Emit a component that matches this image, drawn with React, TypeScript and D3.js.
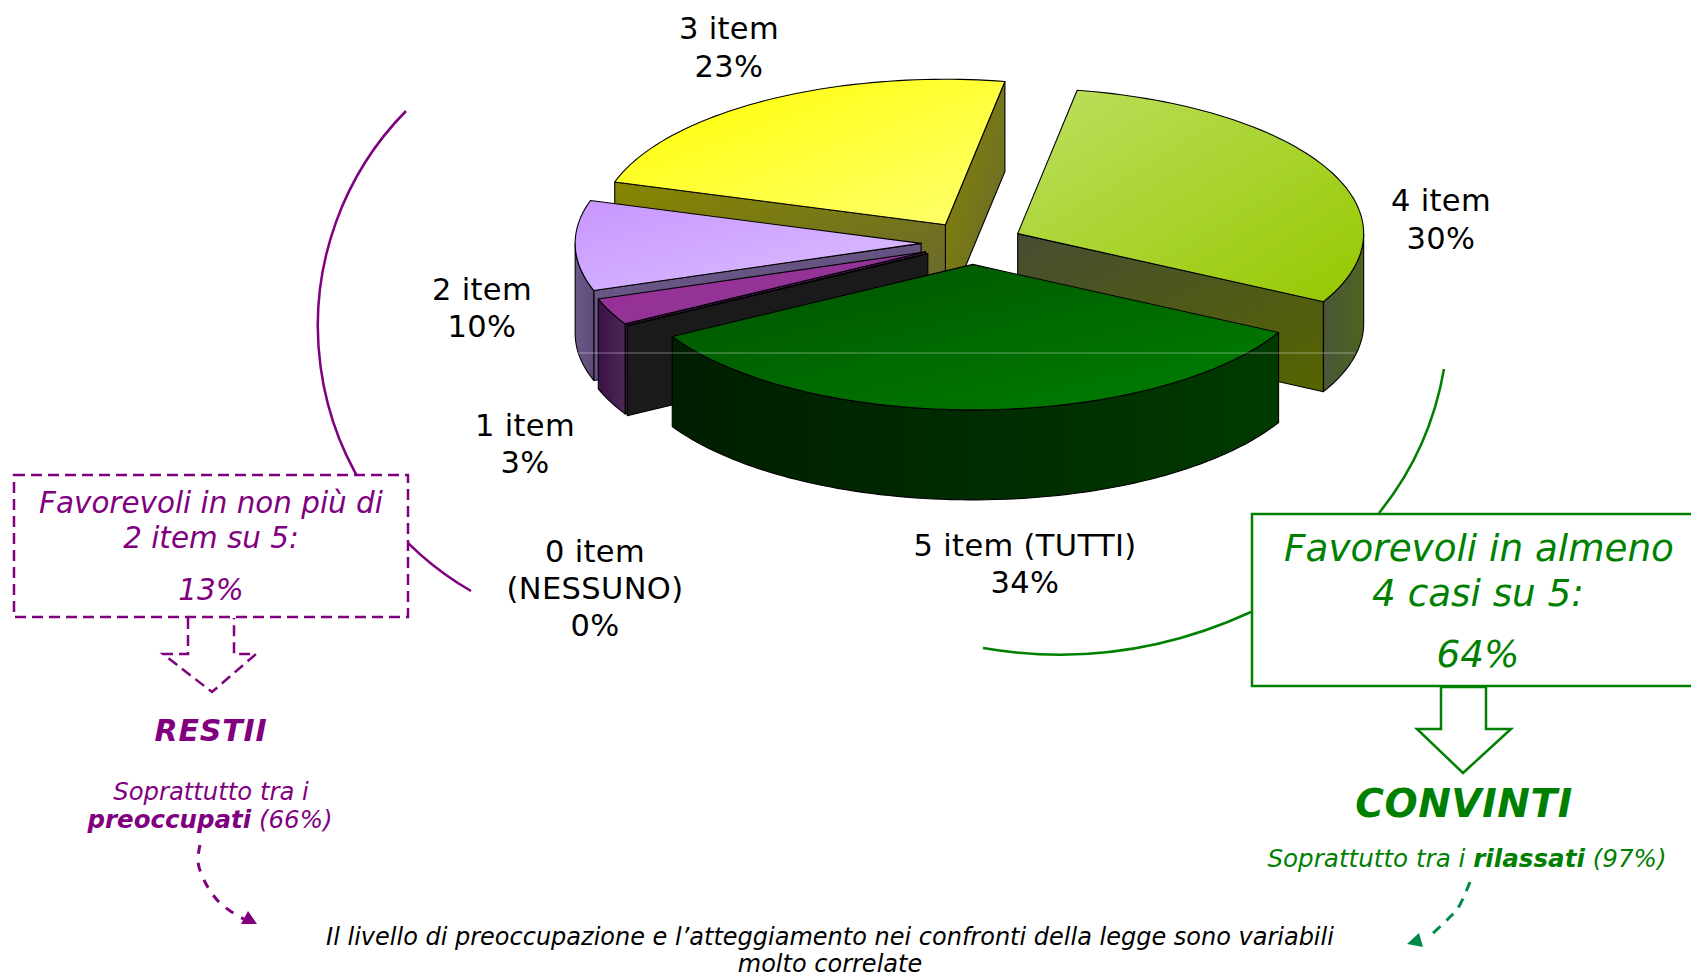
import React from "react";
import * as d3 from "d3";

// ---- data ----
const categories = ["0 item", "1 item", "2 item", "3 item", "4 item", "5 item"];
const values = [0, 3, 10, 23, 30, 34];
const labelLines = [
  ["0 item", "(NESSUNO)", "0%"],
  ["1 item", "3%"],
  ["2 item", "10%"],
  ["3 item", "23%"],
  ["4 item", "30%"],
  ["5 item (TUTTI)", "34%"],
];

// ---- styles / layout (not data) ----
const W = 1691, H = 975;
const CX = 972, CY = 243, RX = 346, RY = 145.5, DEPTH = 90, EXPLODE = 0.147;
const START_DEG = 240.3;
const labelPos: [number, number, number][] = [
  [595, 562, 37],
  [525, 436, 37],
  [482, 300, 37],
  [729, 39, 38],
  [1441, 211, 38],
  [1025, 556, 37],
];
const topStops = [
  ["#1a1a1a", "#1a1a1a"],
  ["#9c2a9c", "#8c3c90"],
  ["#c896ff", "#dcc0ff"],
  ["#ffff00", "#ffff70"],
  ["#bce060", "#96c800"],
  ["#005200", "#008000"],
];
const wallStops = [
  ["#1a1a1a", "#1a1a1a"],
  ["#3c0f48", "#4c2a54"],
  ["#6a5a88", "#5e4a78"],
  ["#868600", "#666633"],
  ["#464d32", "#566400"],
  ["#001e00", "#003a00"],
];
const arcWallStops = [
  ["#1a1a1a", "#1a1a1a"],
  ["#3c0f48", "#4c2a54"],
  ["#6a5a88", "#5e4a78"],
  ["#868600", "#666633"],
  ["#4a5538", "#4e6420"],
  ["#001e00", "#003a00"],
];

const rad = (d: number) => (d * Math.PI) / 180;
const xScale = d3.scaleLinear().domain([-1, 1]).range([-RX, RX]);
const yScale = d3.scaleLinear().domain([-1, 1]).range([-RY, RY]);
const onRim = (a: number, ox: number, oy: number): [number, number] => [
  ox + xScale(Math.sin(a)),
  oy + yScale(-Math.cos(a)),
];
const line = d3.line();
const closed = (pts: [number, number][]) => (line(pts) as string) + "Z";

const sampleArc = (a0: number, a1: number, ox: number, oy: number) => {
  const n = Math.max(2, Math.ceil(Math.abs(a1 - a0) / rad(1.5)));
  return d3.range(n + 1).map((i) => onRim(a0 + ((a1 - a0) * i) / n, ox, oy));
};

const arcs = d3
  .pie<number>()
  .sort(null)
  .startAngle(rad(START_DEG))
  .endAngle(rad(START_DEG + 360))(values);

type Face = { d: string; fill: string };

const slices = arcs.map((arc, i) => {
  const a0 = arc.startAngle, a1 = arc.endAngle;
  const mid = (a0 + a1) / 2;
  const ox = CX + EXPLODE * xScale(Math.sin(mid));
  const oy = CY + EXPLODE * yScale(-Math.cos(mid));
  const apex: [number, number] = [ox, oy];
  const walls: Face[] = [];
  const radialWall = (a: number, normal: number) => {
    if (Math.cos(normal) < 0) {
      const p = onRim(a, ox, oy);
      walls.push({
        d: closed([apex, p, [p[0], p[1] + DEPTH], [ox, oy + DEPTH]]),
        fill: `url(#wall${i})`,
      });
    }
  };
  radialWall(a1, a1 + Math.PI / 2);
  radialWall(a0, a0 - Math.PI / 2);
  const arcFaces: Face[] = [];
  [-2 * Math.PI, 0].forEach((shift) => {
    const lo = Math.max(a0 + shift, rad(90));
    const hi = Math.min(a1 + shift, rad(270));
    if (hi > lo) {
      const rimPts = sampleArc(lo, hi, ox, oy);
      const lower = rimPts.map(([x, y]) => [x, y + DEPTH] as [number, number]).reverse();
      arcFaces.push({ d: closed([...rimPts, ...lower]), fill: `url(#arcwall${i})` });
    }
  });
  const top = closed([apex, ...sampleArc(a0, a1, ox, oy)]);
  return { i, oy, walls, arcFaces, top };
});
const paintOrder = [...slices].sort((a, b) => a.oy - b.oy);

const smooth = d3.line().curve(d3.curveCatmullRom.alpha(0.5));
const PURPLE = "#800080", GREEN = "#008000", TEAL = "#008a4a";
const FONT = "'DejaVu Sans', Verdana, sans-serif";

const purpleArc = "M406 111 A306 306 0 0 0 471 591";
const greenArcUpper = "M1444 369 Q1430 450 1379 513";
const greenArcLower = "M1251 612 C1190 640 1100 668 983 648";
const purpleDash = smooth([
  [200, 845], [198, 862], [205, 882], [219, 902], [238, 916], [246, 920],
] as [number, number][]) as string;
const tealDash = smooth([
  [1470, 882], [1458, 908], [1448, 919], [1431, 935],
] as [number, number][]) as string;

function T(p: any) {
  const { x, y, size, fill = "#000", weight, italic = true, spacing, children } = p;
  return (
    <text x={x} y={y} textAnchor="middle" fontFamily={FONT} fontSize={size} fill={fill}
      letterSpacing={spacing}
      fontStyle={italic ? "italic" : "normal"} fontWeight={weight}>{children}</text>
  );
}

export default function App() {
  return (
    <svg width={W} height={H} viewBox={`0 0 ${W} ${H}`}
      style={{ position: "absolute", left: 0, top: 0, display: "block", background: "#fff" }}>
      <defs>
        {categories.map((c, i) => (
          <React.Fragment key={c}>
            <linearGradient id={`top${i}`} x1="0" y1="0" x2="1" y2="1">
              <stop offset="0" stopColor={topStops[i][0]} />
              <stop offset="1" stopColor={topStops[i][1]} />
            </linearGradient>
            <linearGradient id={`wall${i}`} x1="0" y1="0" x2="1" y2="1">
              <stop offset="0" stopColor={wallStops[i][0]} />
              <stop offset="1" stopColor={wallStops[i][1]} />
            </linearGradient>
            <linearGradient id={`arcwall${i}`} x1="0" y1="0" x2="1" y2="0">
              <stop offset="0" stopColor={arcWallStops[i][0]} />
              <stop offset="1" stopColor={arcWallStops[i][1]} />
            </linearGradient>
          </React.Fragment>
        ))}
      </defs>

      {/* connector arcs, behind the boxes */}
      <path d={purpleArc} fill="none" stroke={PURPLE} strokeWidth={2.5} />
      <path d={greenArcUpper} fill="none" stroke={GREEN} strokeWidth={2.5} />
      <path d={greenArcLower} fill="none" stroke={GREEN} strokeWidth={2.5} />

      {/* exploded pie */}
      {paintOrder.map((s) => (
        <g key={s.i} stroke="#000" strokeWidth={1.1} strokeLinejoin="round">
          {s.walls.map((f, k) => <path key={k} d={f.d} fill={f.fill} />)}
          {s.arcFaces.map((f, k) => <path key={k} d={f.d} fill={f.fill} />)}
          <path d={s.top} fill={`url(#top${s.i})`} />
        </g>
      ))}
      <line x1={578} x2={1355} y1={353} y2={353} stroke="#fff" strokeOpacity={0.4} strokeWidth={1} />

      {/* pie labels */}
      {labelLines.map((lines, i) =>
        lines.map((t, k) => (
          <T key={t} x={labelPos[i][0]} y={labelPos[i][1] + k * labelPos[i][2]} size={30.5} italic={false} spacing={0.35}>{t}</T>
        ))
      )}

      {/* left annotation */}
      <rect x={14} y={475} width={394} height={142} fill="#fff" stroke={PURPLE} strokeWidth={2.5} strokeDasharray="11 6" />
      <T x={211} y={513} size={29.4} fill={PURPLE}>Favorevoli in non più di</T>
      <T x={211} y={548} size={29.4} fill={PURPLE}>2 item su 5:</T>
      <T x={211} y={600} size={29.4} fill={PURPLE}>13%</T>
      <path d={line([[188, 618], [188, 654], [163, 654], [212, 692], [256, 654], [234, 654], [234, 618]]) as string}
        fill="none" stroke={PURPLE} strokeWidth={2.5} strokeDasharray="11 6" />
      <T x={211} y={741} size={30} fill={PURPLE} weight={700} spacing={0.8}>RESTII</T>
      <T x={211} y={800} size={24.3} fill={PURPLE}>Soprattutto tra i</T>
      <T x={210} y={828} size={24.5} fill={PURPLE}><tspan fontWeight={700}>preoccupati</tspan> (66%)</T>
      <path d={purpleDash} fill="none" stroke={PURPLE} strokeWidth={3} strokeDasharray="9 9" />
      <path d={closed([[257, 924], [241, 924], [248, 911]])} fill={PURPLE} />

      {/* right annotation */}
      <rect x={1252} y={514} width={460} height={172} fill="#fff" stroke={GREEN} strokeWidth={2.5} />
      <T x={1479} y={561} size={37.3} fill={GREEN}>Favorevoli in almeno</T>
      <T x={1478} y={606} size={37.3} fill={GREEN}>4 casi su 5:</T>
      <T x={1478} y={667} size={37.3} fill={GREEN}>64%</T>
      <path d={closed([[1441, 687], [1441, 729], [1417, 729], [1463, 773], [1511, 729], [1486, 729], [1486, 687]])}
        fill="#fff" stroke={GREEN} strokeWidth={2.5} />
      <T x={1464} y={817} size={39} fill={GREEN} weight={700} spacing={0.6}>CONVINTI</T>
      <T x={1467} y={867} size={24.6} fill={GREEN}>Soprattutto tra i <tspan fontWeight={700}>rilassati</tspan> (97%)</T>
      <path d={tealDash} fill="none" stroke={TEAL} strokeWidth={3} strokeDasharray="10 8" />
      <path d={closed([[1407, 944], [1419, 933], [1423, 947]])} fill={TEAL} />

      {/* conclusion */}
      <T x={830} y={945} size={24}>Il livello di preoccupazione e l’atteggiamento nei confronti della legge sono variabili</T>
      <T x={830} y={972} size={24}>molto correlate</T>
    </svg>
  );
}
